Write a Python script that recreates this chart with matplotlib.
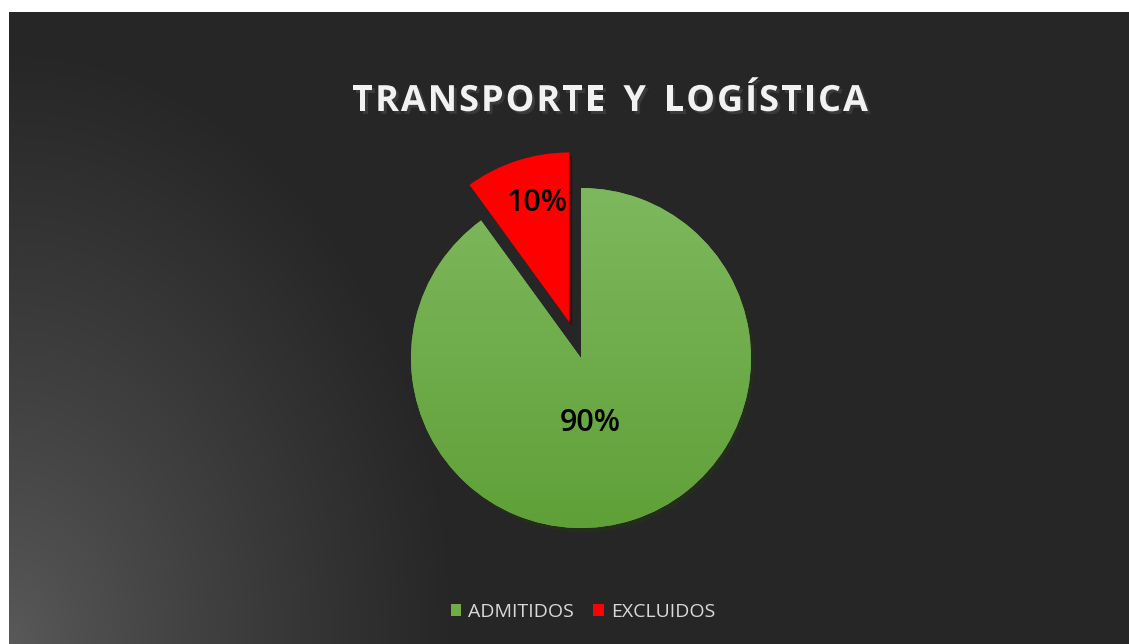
import matplotlib.pyplot as plt
import matplotlib.patheffects as pe
from matplotlib.patches import Patch
import numpy as np

categories = ['ADMITIDOS', 'EXCLUIDOS']
values = [90, 10]
colors = ['#70ad47', '#ff0000']
title = 'TRANSPORTE Y LOGÍSTICA'

W, H = 1129, 644
fig = plt.figure(figsize=(W / 100, H / 100), dpi=100)
fig.patch.set_facecolor('white')

# dark background with elliptical glow from bottom-left
bg = fig.add_axes([9 / W, 0, (W - 9) / W, (H - 12) / H])
bg.set_axis_off()
yy, xx = np.mgrid[0:632, 0:1120]
d = np.sqrt((xx / 450) ** 2 + ((631 - yy) / 600) ** 2)
t = np.clip(d, 0, 1) ** 0.85
c0 = np.array([0x5a, 0x5a, 0x5a]) / 255
c1 = np.array([0x26, 0x26, 0x26]) / 255
img = c0[None, None, :] * (1 - t[..., None]) + c1[None, None, :] * t[..., None]
bg.imshow(img, aspect='auto', extent=(0, 1, 0, 1), origin='upper')
bg.set_xlim(0, 1)
bg.set_ylim(0, 1)

# pie axes: 1 data unit = 170 px
cx, cy, r = 581, H - 358, 170
side = 3 * r
ax = fig.add_axes([(cx - side / 2) / W, (cy - side / 2) / H, side / W, side / H])
wedges, texts, autotexts = ax.pie(values, colors=colors, startangle=90, counterclock=False,
                                  explode=[0, 0.22], radius=1, autopct='%1.0f%%',
                                  pctdistance=0.72,
                                  textprops=dict(fontsize=22, fontweight='semibold', color='black',
                                                 family='Open Sans'))
ax.set_xlim(-1.5, 1.5)
ax.set_ylim(-1.5, 1.5)
ax.set_axis_off()

for w in wedges:
    w.set_path_effects([pe.SimplePatchShadow(offset=(2, -3), alpha=0.6), pe.Normal()])

# vertical gradient on green slice
gy = np.linspace(1, 0, 200)[:, None]
top = np.array([0x7e, 0xb8, 0x5e]) / 255
bot = np.array([0x60, 0xa0, 0x38]) / 255
grad = top[None, None, :] * gy[..., None] + bot[None, None, :] * (1 - gy[..., None])
grad = np.repeat(grad, 2, axis=1)
im = ax.imshow(grad, extent=(-1, 1, -1, 1), aspect='auto', zorder=2)
im.set_clip_path(wedges[0])
for a in autotexts:
    a.set_zorder(5)
autotexts[0].set_position((0.053, -0.38))
autotexts[1].set_position((-0.259, 0.912))

# title drawn letter by letter to get the slight tracking
renderer = fig.canvas.get_renderer()
tkw = dict(color='#f2f2f2', fontsize=26, fontweight='bold', family='Open Sans', va='center',
           path_effects=[pe.withSimplePatchShadow(offset=(2, -2), alpha=0.6)])
track = 2.0
widths = []
for ch in title:
    tt = fig.text(0, 0, ch if ch != ' ' else 'I', **tkw)
    widths.append(tt.get_window_extent(renderer).width if ch != ' ' else 14)
    tt.remove()
total = sum(widths) + track * (len(title) - 1)
x = 610 - total / 2
for ch, wd in zip(title, widths):
    if ch != ' ':
        fig.text(x / W, 1 - 102 / H, ch, ha='left', **tkw)
    x += wd + track

handles = [Patch(facecolor=c, edgecolor='none') for c in colors]
leg = fig.legend(handles, categories, loc='center', bbox_to_anchor=(583 / W, 1 - 612 / H),
                 ncol=2, frameon=False, handlelength=0.55, handleheight=0.55,
                 handletextpad=0.35, columnspacing=1.0, prop=dict(family='Open Sans', size=14))
for txt in leg.get_texts():
    txt.set_color('#d9d9d9')

fig.savefig('out.png', dpi=100, facecolor=fig.get_facecolor())
